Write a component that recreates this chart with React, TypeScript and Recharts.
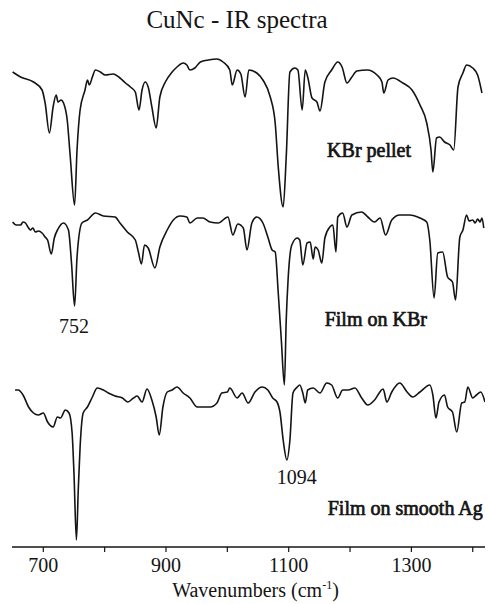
import React from 'react';
import { LineChart, Line, XAxis, YAxis, ReferenceDot, Label } from 'recharts';

// Wavenumbers (cm-1) and displayed transmittance (arbitrary units, stacked offsets)
const kbrPelletWn = [650, 663, 684, 698, 703, 710, 716, 721, 724, 729, 733, 739, 744, 751, 755, 760, 768, 772, 775, 780, 785, 793, 801, 814, 825, 834, 842, 850, 856, 861, 866, 871, 877, 884, 890, 899, 910, 918, 928, 934, 939, 947, 956, 969, 983, 993, 1004, 1008, 1016, 1022, 1029, 1035, 1048, 1058, 1070, 1078, 1083, 1091, 1096, 1102, 1110, 1115, 1122, 1127, 1131, 1138, 1146, 1151, 1159, 1170, 1180, 1187, 1195, 1203, 1211, 1228, 1244, 1252, 1255, 1262, 1270, 1286, 1301, 1314, 1325, 1332, 1335, 1341, 1346, 1354, 1363, 1369, 1376, 1384, 1390, 1400, 1408, 1415];
const kbrPelletT = [475, 470, 465, 457, 444, 414, 440, 452, 445, 447, 444, 427, 390, 342, 397, 437, 457, 467, 462, 470, 477, 475, 472, 473, 469, 464, 460, 455, 437, 457, 465, 460, 440, 419, 450, 465, 475, 480, 484, 482, 477, 479, 485, 487, 488, 485, 477, 462, 477, 473, 450, 477, 474, 467, 450, 424, 380, 340, 390, 475, 479, 477, 437, 477, 470, 449, 445, 436, 465, 477, 485, 480, 464, 470, 476, 477, 472, 465, 454, 467, 469, 464, 457, 442, 424, 397, 375, 409, 410, 405, 402, 397, 460, 474, 482, 479, 472, 454];

const filmKbrWn = [650, 656, 663, 667, 671, 675, 679, 683, 687, 692, 698, 703, 707, 713, 718, 724, 733, 741, 746, 751, 755, 763, 772, 785, 798, 817, 825, 837, 850, 855, 860, 865, 871, 882, 890, 902, 912, 923, 934, 939, 951, 960, 972, 985, 1001, 1009, 1017, 1026, 1032, 1040, 1048, 1058, 1066, 1073, 1078, 1083, 1088, 1093, 1096, 1099, 1105, 1114, 1118, 1123, 1130, 1135, 1140, 1143, 1148, 1154, 1159, 1167, 1172, 1177, 1180, 1188, 1195, 1203, 1219, 1229, 1240, 1249, 1258, 1268, 1281, 1297, 1314, 1325, 1330, 1337, 1343, 1351, 1359, 1367, 1372, 1379, 1384, 1390, 1394, 1400, 1404, 1408, 1412, 1415, 1418];
const filmKbrT = [325, 322, 322, 325, 324, 320, 317, 319, 315, 316, 314, 310, 307, 293, 309, 318, 324, 317, 284, 241, 290, 324, 327, 334, 331, 330, 324, 315, 307, 295, 283, 302, 299, 279, 300, 317, 327, 331, 330, 324, 329, 329, 325, 324, 330, 312, 323, 319, 297, 324, 330, 324, 310, 297, 295, 254, 207, 162, 227, 267, 302, 309, 307, 282, 304, 305, 288, 300, 297, 284, 309, 320, 322, 295, 330, 334, 320, 332, 335, 330, 325, 329, 312, 327, 332, 332, 329, 325, 307, 249, 294, 295, 270, 265, 247, 310, 317, 332, 326, 327, 324, 328, 325, 329, 319];

const filmAgWn = [654, 659, 667, 676, 684, 692, 700, 707, 716, 723, 728, 736, 742, 747, 750, 754, 757, 760, 765, 772, 780, 788, 798, 806, 817, 829, 838, 847, 853, 861, 869, 877, 884, 889, 895, 902, 910, 918, 928, 939, 951, 960, 972, 983, 991, 1000, 1004, 1016, 1024, 1034, 1045, 1057, 1066, 1074, 1081, 1086, 1091, 1097, 1102, 1107, 1114, 1118, 1123, 1127, 1131, 1140, 1151, 1162, 1170, 1180, 1188, 1197, 1208, 1219, 1229, 1240, 1254, 1260, 1268, 1281, 1293, 1302, 1314, 1330, 1335, 1340, 1345, 1354, 1359, 1367, 1374, 1382, 1387, 1392, 1400, 1406, 1413, 1420];
const filmAgT = [157, 157, 152, 140, 134, 132, 134, 125, 120, 130, 129, 137, 134, 114, 74, 7, 57, 100, 134, 140, 150, 159, 157, 154, 151, 149, 145, 149, 151, 145, 158, 147, 130, 112, 140, 155, 157, 160, 154, 149, 140, 140, 140, 144, 154, 155, 159, 149, 154, 144, 155, 160, 157, 149, 145, 134, 107, 87, 107, 154, 160, 162, 154, 144, 157, 159, 154, 164, 162, 149, 157, 157, 159, 149, 142, 147, 158, 145, 155, 164, 155, 150, 155, 162, 152, 129, 145, 152, 140, 135, 115, 144, 145, 160, 149, 152, 155, 145];

const axisTicks = [700, 800, 900, 1000, 1100, 1200, 1300, 1400];
const labeledTicks = [700, 900, 1100, 1300];

const seriesLabels = [
  { name: 'KBr pellet', wn: 1231, t: 390 },
  { name: 'Film on KBr', wn: 1242, t: 221 },
  { name: 'Film on smooth Ag', wn: 1290, t: 32 },
];
const peakLabels = [
  { name: '752', wn: 750, t: 214 },
  { name: '1094', wn: 1113, t: 63 },
];

const toData = (wn: number[], t: number[]) => wn.map((w, i) => ({ w, v: t[i] }));
const kbrPelletData = toData(kbrPelletWn, kbrPelletT);
const filmKbrData = toData(filmKbrWn, filmKbrT);
const filmAgData = toData(filmAgWn, filmAgT);

const FONT = '"Liberation Serif", "Times New Roman", serif';
const INK = '#141414';

const makeText = (text: string, bold: boolean) => (props: any) => {
  const vb = props.viewBox || {};
  const x = (vb.x || 0) + (vb.width || 0) / 2;
  const y = (vb.y || 0) + (vb.height || 0) / 2;
  return (
    <text
      x={x}
      y={y}
      textAnchor="middle"
      fontFamily={FONT}
      fontSize={20}
      fill={INK}
      stroke={bold ? INK : 'none'}
      strokeWidth={bold ? 0.7 : 0}
    >
      {text}
    </text>
  );
};

const AxisTitle = (props: any) => {
  const vb = props.viewBox || {};
  const cx = (vb.x || 0) + (vb.width || 0) / 2 + 7;
  return (
    <text x={cx} y={597} textAnchor="middle" fontFamily={FONT} fontSize={20} fill={INK}>
      Wavenumbers (cm
      <tspan fontSize={12} dy={-8}>-1</tspan>
      <tspan dy={8}>)</tspan>
    </text>
  );
};

export default function App() {
  return (
    <div style={{ position: 'absolute', left: 0, top: 0, width: 489, height: 604, background: '#fff' }}>
      <LineChart width={489} height={604} margin={{ top: 40, right: 4, bottom: 0, left: 12 }}>
        <XAxis
          type="number"
          dataKey="w"
          domain={[649, 1420]}
          ticks={axisTicks}
          interval={0}
          allowDataOverflow
          height={57}
          tickSize={5}
          tickMargin={6}
          axisLine={{ stroke: INK, strokeWidth: 1.6 }}
          tickLine={{ stroke: INK, strokeWidth: 1.2 }}
          tick={{ fontFamily: FONT, fontSize: 20, fill: INK }}
          tickFormatter={(v: number) => (labeledTicks.includes(v) ? String(v) : '')}
        >
          <Label content={AxisTitle} />
        </XAxis>
        <YAxis hide type="number" domain={[0, 507]} allowDataOverflow />
        <Line data={kbrPelletData} dataKey="v" type="monotone" stroke={INK} strokeWidth={1.6} dot={false} isAnimationActive={false} />
        <Line data={filmKbrData} dataKey="v" type="monotone" stroke={INK} strokeWidth={1.6} dot={false} isAnimationActive={false} />
        <Line data={filmAgData} dataKey="v" type="monotone" stroke={INK} strokeWidth={1.6} dot={false} isAnimationActive={false} />
        {seriesLabels.map((s) => (
          <ReferenceDot key={s.name} x={s.wn} y={s.t} r={1} fill="none" stroke="none" label={makeText(s.name, true)} />
        ))}
        {peakLabels.map((s) => (
          <ReferenceDot key={s.name} x={s.wn} y={s.t} r={1} fill="none" stroke="none" label={makeText(s.name, false)} />
        ))}
      </LineChart>
      <svg width={489} height={40} style={{ position: 'absolute', left: 0, top: 0, pointerEvents: 'none' }}>
        <text x={237} y={28} textAnchor="middle" fontFamily={FONT} fontSize={25} fill={INK}>
          CuNc - IR spectra
        </text>
      </svg>
    </div>
  );
}
